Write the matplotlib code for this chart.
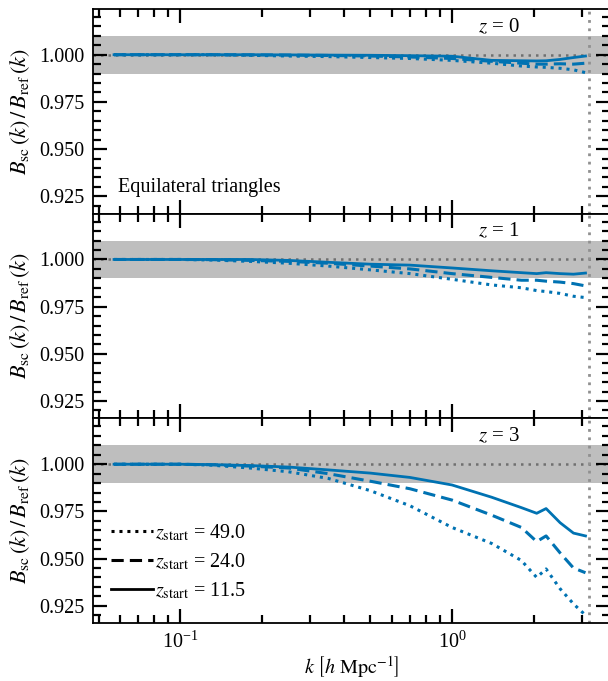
import numpy as np
import matplotlib
matplotlib.use("Agg")
from matplotlib import pyplot as plt
from matplotlib.ticker import MultipleLocator, LogLocator, NullFormatter

plt.rcParams['font.family'] = ['Liberation Serif', 'DejaVu Serif']
plt.rcParams['mathtext.fontset'] = 'stix'

# wavenumbers [h/Mpc]
k = [0.057, 0.08, 0.1, 0.13, 0.18, 0.25, 0.35, 0.5, 0.7, 1.0,
     1.4, 1.8, 2.05, 2.22, 2.5, 2.8, 3.1]

# z = 0
z0_49 = [1.0, 1.0, 1.0, 1.0, 0.9997, 0.9993, 0.999, 0.9985, 0.998, 0.997,
         0.9955, 0.994, 0.9935, 0.9933, 0.9928, 0.992, 0.9905]
z0_24 = [1.0, 1.0, 1.0, 1.0, 0.9999, 0.9998, 0.9996, 0.9993, 0.9988, 0.998,
         0.9965, 0.9955, 0.995, 0.995, 0.9952, 0.995, 0.9955]
z0_11 = [1.0, 1.0, 1.0, 1.0, 1.0, 0.9999, 0.9998, 0.9997, 0.9995, 0.9992,
         0.997, 0.9968, 0.9967, 0.9968, 0.9975, 0.9985, 0.9993]

# z = 1
z1_49 = [1.0, 1.0, 1.0, 0.9997, 0.999, 0.998, 0.9965, 0.9945, 0.9925, 0.9895,
         0.9865, 0.985, 0.9835, 0.983, 0.982, 0.9805, 0.9798]
z1_24 = [1.0, 1.0, 1.0, 0.9999, 0.9995, 0.999, 0.998, 0.9965, 0.995, 0.9925,
         0.9905, 0.989, 0.989, 0.9885, 0.988, 0.9872, 0.986]
z1_11 = [1.0, 1.0, 1.0, 1.0, 1.0, 0.9995, 0.9985, 0.9975, 0.997, 0.9955,
         0.994, 0.993, 0.9925, 0.993, 0.9925, 0.9922, 0.9928]

# z = 3
z3_49 = [1.0, 1.0, 1.0, 0.9995, 0.998, 0.996, 0.9925, 0.986, 0.978, 0.9665,
         0.958, 0.949, 0.940, 0.9445, 0.934, 0.926, 0.920]
z3_24 = [1.0, 1.0, 1.0, 0.9997, 0.999, 0.998, 0.995, 0.991, 0.987, 0.981,
         0.973, 0.9665, 0.959, 0.962, 0.953, 0.945, 0.9425]
z3_11 = [1.0, 1.0, 1.0, 0.9998, 0.9993, 0.9985, 0.997, 0.9953, 0.993, 0.989,
         0.9825, 0.977, 0.974, 0.9765, 0.969, 0.9635, 0.962]

panels = [("0", z0_49, z0_24, z0_11),
          ("1", z1_49, z1_24, z1_11),
          ("3", z3_49, z3_24, z3_11)]
k_nyq = 3.2
blue = '#0072b2'

fig, axes = plt.subplots(3, 1, figsize=(6.08, 6.81), dpi=100, sharex=True)
# right spine sits just outside the saved image, as in the original crop
plt.subplots_adjust(left=0.153, right=1.004, top=0.987, bottom=0.085, hspace=0)

for ax, (zz, y49, y24, y11) in zip(axes, panels):
    ax.axhspan(0.99, 1.01, color='#bebebe', lw=0, zorder=0)
    ax.axhline(1.0, color='#707070', ls=(0, (1, 2)), lw=1.8, zorder=1)
    ax.axvline(k_nyq, color='#909090', ls=(0, (1, 2)), lw=2, zorder=1)
    ax.plot(k, y49, ls=(0, (1, 1.6)), color=blue, lw=2.2, zorder=3)
    ax.plot(k, y24, ls=(0, (4, 2)), color=blue, lw=2.2, zorder=3)
    ax.plot(k, y11, ls='-', color=blue, lw=2.0, zorder=3)

    ax.set_xscale('log')
    ax.set_xlim(0.0477, 3.83)
    ax.set_ylim(0.9158, 1.0243)
    ax.yaxis.set_major_locator(MultipleLocator(0.025))
    ax.yaxis.set_minor_locator(MultipleLocator(0.005))
    ax.yaxis.set_major_formatter(matplotlib.ticker.FormatStrFormatter('%.3f'))
    ax.xaxis.set_major_locator(LogLocator(base=10))
    ax.xaxis.set_minor_locator(LogLocator(base=10, subs=np.arange(2, 10)))
    ax.xaxis.set_minor_formatter(NullFormatter())
    ax.tick_params(which='both', direction='in', top=True, right=True,
                   labelsize=14.5, width=1.6, pad=6)
    ax.tick_params(which='major', length=10)
    ax.tick_params(which='minor', length=6)
    for s in ax.spines.values():
        s.set_linewidth(1.3)
    ax.set_ylabel(r"$B_{\rm sc}\,(k)\,/\,B_{\rm ref}\,(k)$", fontsize=16, labelpad=5)
    ax.text(0.785, 0.91, "$z$ = " + zz, transform=ax.transAxes, ha='center',
            va='center', fontsize=15)

axes[0].text(0.048, 0.127, "Equilateral triangles", transform=axes[0].transAxes,
             ha='left', va='center', fontsize=14.5)

h1, = axes[2].plot([], [], ls=(0, (1, 1.6)), color='k', lw=2.2)
h2, = axes[2].plot([], [], ls=(0, (4, 2)), color='k', lw=2.2)
h3, = axes[2].plot([], [], ls='-', color='k', lw=2.0)
axes[2].legend([h1, h2, h3],
               [r"$z_{\rm start}$ = 49.0", r"$z_{\rm start}$ = 24.0", r"$z_{\rm start}$ = 11.5"],
               loc='lower left', bbox_to_anchor=(0.0, 0.02), frameon=False,
               fontsize=14.5, handlelength=2.1, handletextpad=0.1, labelspacing=0.4)

axes[2].set_xlabel(r"$k\ \left[h\ {\rm Mpc}^{-1}\right]$", fontsize=14.5, labelpad=1)

fig.savefig("out.png", dpi=100)
